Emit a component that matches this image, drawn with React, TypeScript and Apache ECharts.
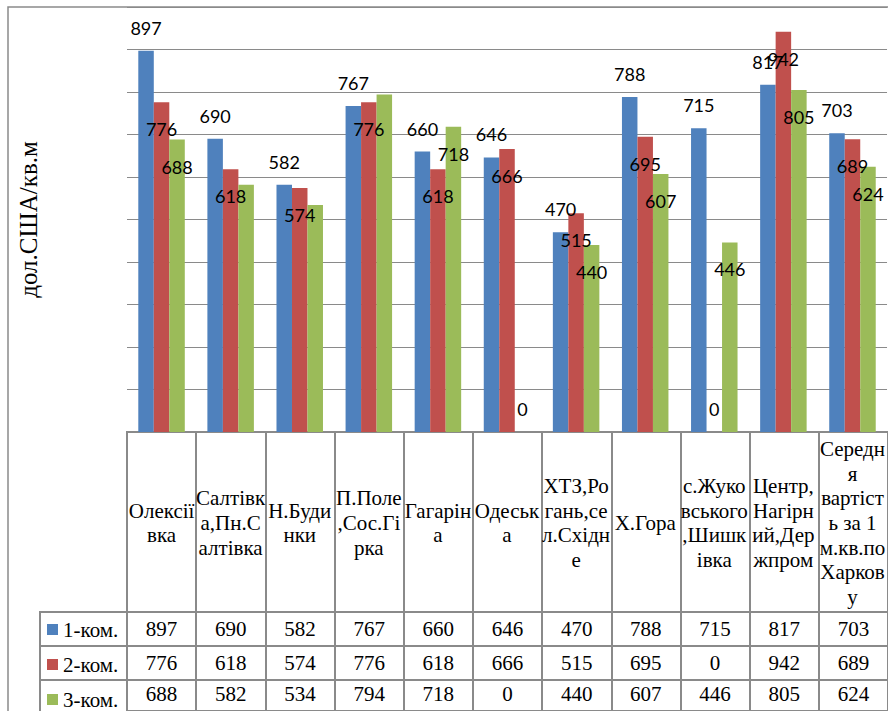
import React, { useEffect, useRef } from "react";
import * as echarts from "echarts";

// District names, wrapped the way the table header shows them
const categories: string[] = [
  "Олексії\nвка",
  "Салтівк\nа,Пн.С\nалтівка",
  "Н.Буди\nнки",
  "П.Поле\n,Сос.Гі\nрка",
  "Гагарін\nа",
  "Одеськ\nа",
  "ХТЗ,Ро\nгань,се\nл.Східн\nе",
  "Х.Гора",
  "с.Жуко\nвського\n,Шишк\nівка",
  "Центр,\nНагірн\nий,Дер\nжпром",
  "Середн\nя\nвартіст\nь за 1\nм.кв.по\nХарков\nу",
];

const seriesNames: string[] = ["1-ком.", "2-ком.", "3-ком."];

const oneRoom: number[] = [897, 690, 582, 767, 660, 646, 470, 788, 715, 817, 703];
const twoRoom: number[] = [776, 618, 574, 776, 618, 666, 515, 695, 0, 942, 689];
const threeRoom: number[] = [688, 582, 534, 794, 718, 0, 440, 607, 446, 805, 624];

// Points whose value label is not displayed above the bars
const hiddenLabels: number[][] = [[], [], [1, 2, 3]];

const yTicks = { min: 0, max: 1000, interval: 100 };

const colors = ["#4F81BD", "#C0504D", "#9BBB59"];
const GRID_GRAY = "#8a8a8a";
const SERIF = "'Liberation Serif', 'Times New Roman', serif";
const SANS = "Lato, 'Open Sans', sans-serif";

const PLOT_LEFT = 127;
const COL_W = 69.7;
const PLOT_W = COL_W * categories.length;
const PLOT_TOP = 7;
const AXIS_Y = 432;
const HEADER_H = 180;
const ROW_H = 34;

export default function App() {
  const ref = useRef<HTMLDivElement>(null);

  useEffect(() => {
    if (!ref.current) return;
    const chart = echarts.init(ref.current, undefined, { renderer: "svg" });
    const all = [oneRoom, twoRoom, threeRoom];

    const rowTops = [0, 1, 2].map((k) => AXIS_Y + HEADER_H + k * ROW_H);

    const grids: any[] = [
      { left: PLOT_LEFT, top: PLOT_TOP, width: PLOT_W, height: AXIS_Y - PLOT_TOP },
      {
        left: PLOT_LEFT, top: AXIS_Y, width: PLOT_W, height: HEADER_H,
        show: true, borderColor: GRID_GRAY, borderWidth: 2,
      },
      ...rowTops.map((t) => ({
        left: PLOT_LEFT, top: t, width: PLOT_W, height: ROW_H,
        show: true, borderColor: GRID_GRAY, borderWidth: 2,
      })),
    ];

    const xAxes: any[] = [
      {
        type: "category",
        gridIndex: 0,
        data: categories,
        axisLine: { show: true, lineStyle: { color: GRID_GRAY, width: 2 } },
        axisTick: { show: false },
        axisLabel: {
          interval: 0,
          margin: 91,
          verticalAlign: "middle",
          fontFamily: SERIF,
          fontSize: 21,
          lineHeight: 24.7,
          color: "#000",
        },
      },
      {
        type: "category",
        gridIndex: 1,
        data: categories,
        axisLine: { show: false },
        axisTick: { show: false },
        axisLabel: { show: false, interval: 0 },
        splitLine: { show: true, interval: 0, lineStyle: { color: GRID_GRAY, width: 2 } },
      },
      ...all.map((vals, k) => ({
        type: "category",
        gridIndex: 2 + k,
        data: categories,
        axisLine: { show: false },
        axisTick: { show: false },
        axisLabel: {
          interval: 0,
          margin: -ROW_H / 2,
          verticalAlign: "middle",
          fontFamily: SERIF,
          fontSize: 21,
          color: "#000",
          formatter: (_v: string, i: number) => String(vals[i]),
        },
        splitLine: { show: true, interval: 0, lineStyle: { color: GRID_GRAY, width: 2 } },
      })),
    ];

    const yAxes: any[] = [
      {
        type: "value",
        gridIndex: 0,
        min: yTicks.min,
        max: yTicks.max,
        interval: yTicks.interval,
        axisLine: { show: false },
        axisTick: { show: false },
        axisLabel: { show: false },
        splitLine: { show: true, lineStyle: { color: GRID_GRAY, width: 1.2 } },
        name: "дол.США/кв.м",
        nameLocation: "middle",
        nameGap: 86,
        nameRotate: 90,
        nameTextStyle: { fontFamily: SERIF, fontSize: 25, color: "#000" },
      },
      ...[1, 2, 3, 4].map((g) => ({
        type: "value",
        gridIndex: g,
        show: false,
      })),
    ];

    const series = all.map((vals, k) => ({
      name: seriesNames[k],
      type: "bar",
      xAxisIndex: 0,
      yAxisIndex: 0,
      barWidth: 15.5,
      barGap: "0%",
      itemStyle: { color: colors[k] },
      label: {
        show: true,
        position: k === 0 ? "top" : "insideTop",
        distance: k === 0 ? 14 : 18,
        fontFamily: SANS,
        fontSize: 18,
        color: "#000",
      },
      data: vals.map((v, i) => {
        if (hiddenLabels[k].includes(i)) {
          return { value: v, label: { show: false } };
        }
        if (v === 0) {
          return { value: v, label: { position: "top", distance: 14 } };
        }
        return v;
      }),
    }));

    chart.setOption({
      animation: false,
      backgroundColor: "#fff",
      grid: grids,
      xAxis: xAxes,
      yAxis: yAxes,
      legend: {
        orient: "vertical",
        left: 47,
        top: AXIS_Y + HEADER_H + 7,
        padding: 0,
        itemGap: 14,
        itemWidth: 11,
        itemHeight: 11,
        icon: "rect",
        selectedMode: false,
        textStyle: { fontFamily: SERIF, fontSize: 21, lineHeight: 20, color: "#000" },
        data: seriesNames,
      },
      graphic: [
        // outer chart frame
        {
          type: "rect",
          shape: { x: 8, y: PLOT_TOP, width: 900, height: 720 },
          style: { fill: "none", stroke: GRID_GRAY, lineWidth: 1.5 },
          silent: true,
        },
        // legend key cells of the data table
        ...rowTops.map((t) => ({
          type: "rect",
          shape: { x: 40, y: t, width: PLOT_LEFT - 40, height: ROW_H },
          style: { fill: "none", stroke: GRID_GRAY, lineWidth: 2 },
          silent: true,
        })),
      ],
      series,
    });

    return () => chart.dispose();
  }, []);

  return (
    <div
      ref={ref}
      style={{ position: "absolute", left: 0, top: 0, width: 888, height: 711 }}
    />
  );
}
